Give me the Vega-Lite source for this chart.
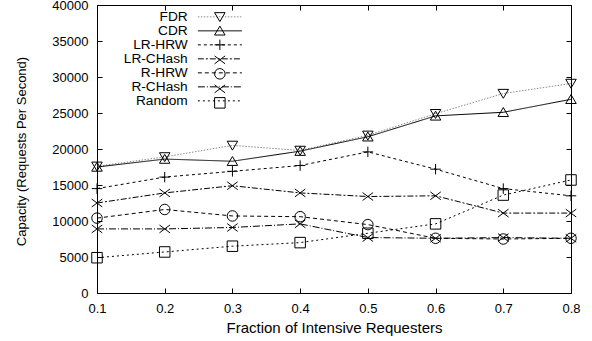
{
  "$schema": "https://vega.github.io/schema/vega-lite/v6.json",
  "width": 474,
  "height": 288,
  "autosize": {"type": "none"},
  "padding": {"left": 97, "top": 5, "right": 21, "bottom": 48},
  "background": "white",
  "config": {
    "font": "Liberation Sans",
    "view": {"stroke": "black", "strokeWidth": 1},
    "axis": {
      "domain": false,
      "grid": false,
      "tickColor": "black",
      "tickSize": -5,
      "tickWidth": 1,
      "labelColor": "black",
      "labelFont": "Liberation Sans",
      "labelFontSize": 13,
      "titleFont": "Liberation Sans",
      "titleFontWeight": "normal",
      "titleColor": "black"
    }
  },
  "data": {
    "values": [
      {"x": 0.1, "series": "FDR", "marker": "FDR", "y": 17600},
      {"x": 0.2, "series": "FDR", "marker": "FDR", "y": 18900},
      {"x": 0.3, "series": "FDR", "marker": "FDR", "y": 20500},
      {"x": 0.4, "series": "FDR", "marker": "FDR", "y": 19800},
      {"x": 0.5, "series": "FDR", "marker": "FDR", "y": 21900},
      {"x": 0.6, "series": "FDR", "marker": "FDR", "y": 24900},
      {"x": 0.7, "series": "FDR", "marker": "FDR", "y": 27700},
      {"x": 0.8, "series": "FDR", "marker": "FDR", "y": 29100},
      {"x": 0.1, "series": "CDR", "marker": "CDR", "y": 17500},
      {"x": 0.2, "series": "CDR", "marker": "CDR", "y": 18600},
      {"x": 0.3, "series": "CDR", "marker": "CDR", "y": 18300},
      {"x": 0.4, "series": "CDR", "marker": "CDR", "y": 19700},
      {"x": 0.5, "series": "CDR", "marker": "CDR", "y": 21700},
      {"x": 0.6, "series": "CDR", "marker": "CDR", "y": 24600},
      {"x": 0.7, "series": "CDR", "marker": "CDR", "y": 25100},
      {"x": 0.8, "series": "CDR", "marker": "CDR", "y": 26900},
      {"x": 0.1, "series": "LR-HRW", "marker": "LR-HRW", "y": 14500},
      {"x": 0.2, "series": "LR-HRW", "marker": "LR-HRW", "y": 16100},
      {"x": 0.3, "series": "LR-HRW", "marker": "LR-HRW", "y": 16900},
      {"x": 0.4, "series": "LR-HRW", "marker": "LR-HRW", "y": 17700},
      {"x": 0.5, "series": "LR-HRW", "marker": "LR-HRW", "y": 19600},
      {"x": 0.6, "series": "LR-HRW", "marker": "LR-HRW", "y": 17200},
      {"x": 0.7, "series": "LR-HRW", "marker": "LR-HRW", "y": 14500},
      {"x": 0.8, "series": "LR-HRW", "marker": "LR-HRW", "y": 13500},
      {"x": 0.1, "series": "LR-CHash", "marker": "LR-CHash", "y": 12500},
      {"x": 0.2, "series": "LR-CHash", "marker": "LR-CHash", "y": 13900},
      {"x": 0.3, "series": "LR-CHash", "marker": "LR-CHash", "y": 14900},
      {"x": 0.4, "series": "LR-CHash", "marker": "LR-CHash", "y": 13900},
      {"x": 0.5, "series": "LR-CHash", "marker": "LR-CHash", "y": 13400},
      {"x": 0.6, "series": "LR-CHash", "marker": "LR-CHash", "y": 13500},
      {"x": 0.7, "series": "LR-CHash", "marker": "LR-CHash", "y": 11100},
      {"x": 0.8, "series": "LR-CHash", "marker": "LR-CHash", "y": 11100},
      {"x": 0.1, "series": "R-HRW", "marker": "R-HRW", "y": 10400},
      {"x": 0.2, "series": "R-HRW", "marker": "R-HRW", "y": 11600},
      {"x": 0.3, "series": "R-HRW", "marker": "R-HRW", "y": 10700},
      {"x": 0.4, "series": "R-HRW", "marker": "R-HRW", "y": 10600},
      {"x": 0.5, "series": "R-HRW", "marker": "R-HRW", "y": 9500},
      {"x": 0.6, "series": "R-HRW", "marker": "R-HRW", "y": 7600},
      {"x": 0.7, "series": "R-HRW", "marker": "R-HRW", "y": 7500},
      {"x": 0.8, "series": "R-HRW", "marker": "R-HRW", "y": 7600},
      {"x": 0.1, "series": "R-CHash", "marker": "R-CHash", "y": 8900},
      {"x": 0.2, "series": "R-CHash", "marker": "R-CHash", "y": 8900},
      {"x": 0.3, "series": "R-CHash", "marker": "R-CHash", "y": 9100},
      {"x": 0.4, "series": "R-CHash", "marker": "R-CHash", "y": 9600},
      {"x": 0.5, "series": "R-CHash", "marker": "R-CHash", "y": 7700},
      {"x": 0.6, "series": "R-CHash", "marker": "R-CHash", "y": 7600},
      {"x": 0.7, "series": "R-CHash", "marker": "R-CHash", "y": 7700},
      {"x": 0.8, "series": "R-CHash", "marker": "R-CHash", "y": 7600},
      {"x": 0.1, "series": "Random", "marker": "Random", "y": 4900},
      {"x": 0.2, "series": "Random", "marker": "Random", "y": 5700},
      {"x": 0.3, "series": "Random", "marker": "Random", "y": 6500},
      {"x": 0.4, "series": "Random", "marker": "Random", "y": 7000},
      {"x": 0.5, "series": "Random", "marker": "Random", "y": 8300},
      {"x": 0.6, "series": "Random", "marker": "Random", "y": 9600},
      {"x": 0.7, "series": "Random", "marker": "Random", "y": 13600},
      {"x": 0.8, "series": "Random", "marker": "Random", "y": 15700}
    ]
  },
  "resolve": {"axis": {"x": "independent", "y": "independent"}},
  "layer": [
    {
      "mark": {"type": "line", "strokeWidth": 1, "clip": true},
      "encoding": {
        "x": {
          "field": "x", "type": "quantitative",
          "scale": {"domain": [0.1, 0.8], "nice": false, "zero": false},
          "axis": {
            "orient": "bottom",
            "values": [0.1, 0.2, 0.3, 0.4, 0.5, 0.6, 0.7, 0.8],
            "format": ".1f",
            "labelPadding": 14,
            "labelFlush": false,
            "title": "Fraction of Intensive Requesters",
            "titleFontSize": 15,
            "titleX": 237,
            "titleY": 34,
            "titleBaseline": "middle",
            "titleAlign": "center"
          }
        },
        "y": {
          "field": "y", "type": "quantitative",
          "scale": {"domain": [0, 40000], "nice": false},
          "axis": {
            "orient": "left",
            "values": [0, 5000, 10000, 15000, 20000, 25000, 30000, 35000, 40000],
            "format": "d",
            "labelPadding": 14,
            "labelFlush": false,
            "title": "Capacity (Requests Per Second)",
            "titleFontSize": 13,
            "titleAngle": -90,
            "titleX": -76,
            "titleY": 146,
            "titleAlign": "center",
            "titleBaseline": "middle"
          }
        },
        "detail": {"field": "series"},
        "color": {
          "field": "series", "type": "nominal",
          "scale": {
            "domain": ["FDR", "CDR", "LR-HRW", "LR-CHash", "R-HRW", "R-CHash", "Random"],
            "range": ["#8a8a8a", "black", "black", "black", "black", "black", "black"]
          },
          "legend": {
            "orient": "none", "legendX": 0, "legendY": 5, "title": null,
            "padding": 0, "rowPadding": -1.33,
            "labelFontSize": 13.7, "labelFont": "Liberation Sans", "labelColor": "black",
            "labelAlign": "right", "labelOffset": -39, "symbolOffset": 116,
            "symbolType": "M-4,0H4", "symbolSize": 121, "symbolStrokeWidth": 1
          }
        },
        "strokeDash": {
          "field": "series", "type": "nominal",
          "scale": {
            "domain": ["FDR", "CDR", "LR-HRW", "LR-CHash", "R-HRW", "R-CHash", "Random"],
            "range": [[1.5, 1.5], [1, 0], [3, 3], [6, 2, 2, 2], [4, 3], [7, 2, 1, 2], [2, 3]]
          },
          "legend": {
            "orient": "none", "legendX": 0, "legendY": 5, "title": null,
            "padding": 0, "rowPadding": -1.33,
            "labelFontSize": 13.7, "labelFont": "Liberation Sans", "labelColor": "black",
            "labelAlign": "right", "labelOffset": -39, "symbolOffset": 116,
            "symbolType": "M-4,0H4", "symbolSize": 121, "symbolStrokeWidth": 1
          }
        }
      }
    },
    {
      "mark": {"type": "point", "filled": false, "strokeWidth": 1, "color": "black", "size": 110, "opacity": 1},
      "encoding": {
        "x": {
          "field": "x", "type": "quantitative",
          "axis": {
            "orient": "top",
            "values": [0.1, 0.2, 0.3, 0.4, 0.5, 0.6, 0.7, 0.8],
            "labels": false,
            "title": null
          }
        },
        "y": {
          "field": "y", "type": "quantitative",
          "axis": {
            "orient": "right",
            "values": [0, 5000, 10000, 15000, 20000, 25000, 30000, 35000, 40000],
            "labels": false,
            "title": null
          }
        },
        "shape": {
          "field": "marker", "type": "nominal",
          "sort": ["FDR", "CDR", "LR-HRW", "LR-CHash", "R-HRW", "R-CHash", "Random"],
          "scale": {
            "range": [
              "M-1,-0.8L1,-0.8L0,0.9Z",
              "M-1,0.8L1,0.8L0,-0.9Z",
              "M-1,0H1M0,-1V1",
              "M-1,-0.75L1,0.75M-1,0.75L1,-0.75",
              "circle",
              "M-1,-0.75L1,0.75M-1,0.75L1,-0.75",
              "square"
            ]
          },
          "legend": {
            "orient": "none", "legendX": 0, "legendY": 5, "title": null,
            "padding": 0, "rowPadding": -1.33,
            "labelFontSize": 13.7, "labelFont": "Liberation Sans", "labelOpacity": 0,
            "labelAlign": "left", "labelOffset": 4,
            "symbolOffset": 116, "symbolSize": 110, "symbolStrokeWidth": 1,
            "symbolStrokeColor": "black", "symbolFillColor": "white"
          }
        }
      }
    }
  ]
}
